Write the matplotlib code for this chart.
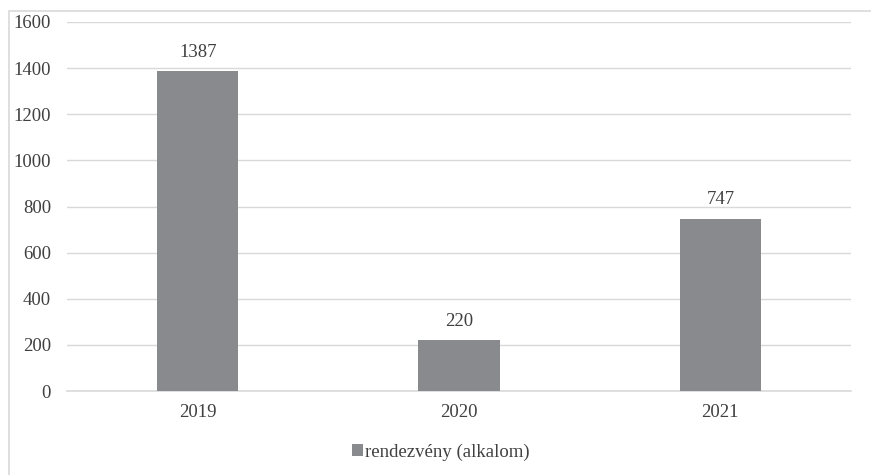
import matplotlib.pyplot as plt
from matplotlib.patches import Rectangle

years = ["2019", "2020", "2021"]
values = [1387, 220, 747]
series_name = "rendezvény (alkalom)"
yticks = [0, 200, 400, 600, 800, 1000, 1200, 1400, 1600]

plt.rcParams['font.family'] = ['Liberation Serif', 'DejaVu Serif']

fig = plt.figure(figsize=(8.71, 4.75), dpi=100)
# outer chart border (cropped at right and bottom)
fig.patches.append(Rectangle((9 / 871, -0.1), 1.2, 1.1 - 11 / 475,
                             transform=fig.transFigure, fill=False,
                             edgecolor='#d9d9d9', linewidth=1.2))

ax = fig.add_axes([67 / 871, 1 - 391 / 475, 784 / 871, 369 / 475])
x = list(range(len(years)))
bars = ax.bar(x, values, width=0.31, color='#898a8e', label=series_name, zorder=3)

for xi, v in zip(x, values):
    ax.text(xi, v + 45, str(v), ha='center', va='bottom', fontsize=13.5, color='#404040')

ax.set_xlim(-0.5, 2.5)
ax.set_ylim(0, 1600)
ax.set_yticks(yticks)
ax.set_xticks(x)
ax.set_xticklabels(years)
ax.tick_params(axis='both', length=0, labelsize=13.5, labelcolor='#404040')
ax.tick_params(axis='y', pad=11.5)
ax.tick_params(axis='x', pad=9.5)
ax.grid(axis='y', color='#d9d9d9', linewidth=1, zorder=0)
for s in ['top', 'right', 'left']:
    ax.spines[s].set_visible(False)
ax.spines['bottom'].set_color('#d9d9d9')
ax.spines['bottom'].set_linewidth(1.2)

fig.legend(handles=[bars], labels=[series_name], loc='center',
           bbox_to_anchor=(441 / 871, 1 - 452 / 475), frameon=False,
           fontsize=13.5, handlelength=0.6, handleheight=0.6, handletextpad=0.1,
           labelcolor='#404040')

fig.savefig('out.png', dpi=100)
